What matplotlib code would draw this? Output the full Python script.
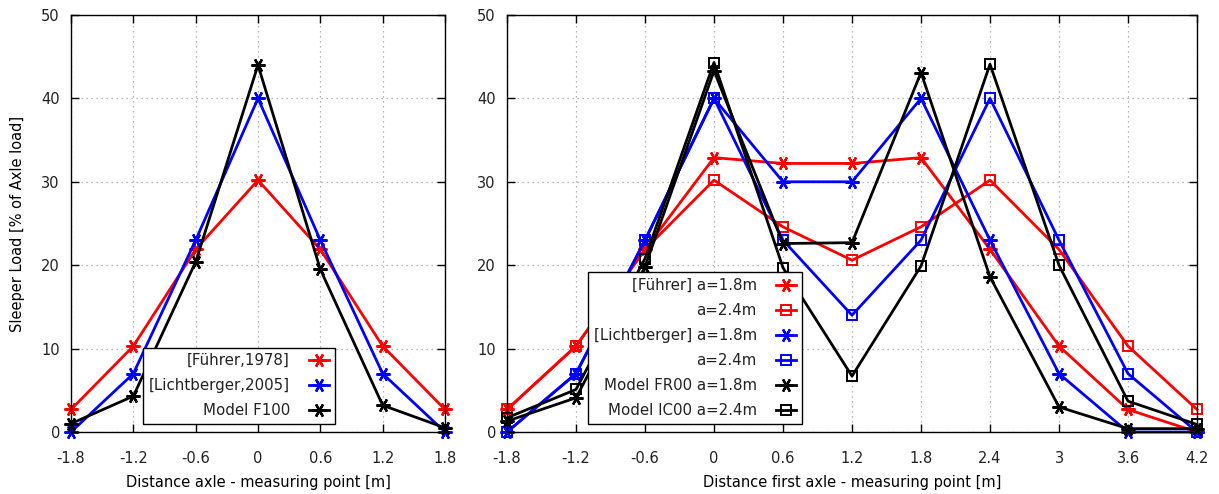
import numpy as np
import matplotlib.pyplot as plt

# distances [m]
x_single = [-1.8, -1.2, -0.6, 0.0, 0.6, 1.2, 1.8]
x_bogie = [-1.8, -1.2, -0.6, 0.0, 0.6, 1.2, 1.8, 2.4, 3.0, 3.6, 4.2]

# sleeper load [% of axle load], single axle
fuehrer = [2.7, 10.3, 21.9, 30.2, 21.9, 10.3, 2.7]
lichtberger = [0.0, 7.0, 23.0, 40.0, 23.0, 7.0, 0.0]
model_f100 = [1.0, 4.3, 20.4, 44.0, 19.5, 3.2, 0.5]

# two axles, spacing a
fuehrer_18 = [2.7, 10.3, 21.9, 32.9, 32.2, 32.2, 32.9, 21.9, 10.3, 2.7, 0.0]
fuehrer_24 = [2.7, 10.3, 21.9, 30.2, 24.6, 20.6, 24.6, 30.2, 21.9, 10.3, 2.7]
licht_18 = [0.0, 7.0, 23.0, 40.0, 30.0, 30.0, 40.0, 23.0, 7.0, 0.0, 0.0]
licht_24 = [0.0, 7.0, 23.0, 40.0, 23.0, 14.0, 23.0, 40.0, 23.0, 7.0, 0.0]
model_fr00 = [1.3, 4.1, 19.8, 43.3, 22.6, 22.7, 43.1, 18.6, 3.0, 0.4, 0.4]
model_ic00 = [1.7, 5.1, 20.8, 44.3, 19.7, 6.7, 19.9, 44.1, 20.0, 3.7, 0.9]

star = (6, 2, 90)
RED, BLUE, BLACK = '#ff0000', '#0000ff', '#000000'

plt.rcParams['font.family'] = 'DejaVu Sans'
plt.rcParams['font.size'] = 10.5
plt.rcParams['text.color'] = '#222222'
plt.rcParams['xtick.labelcolor'] = '#222222'
plt.rcParams['ytick.labelcolor'] = '#222222'

fig = plt.figure(figsize=(12.19, 4.94), dpi=100)
ax1 = fig.add_axes([71/1219, 62/494, 374/1219, 417/494])
ax2 = fig.add_axes([507/1219, 62/494, 690/1219, 417/494])


def style(ax, xt):
    ax.set_xlim(xt[0], xt[-1])
    ax.set_ylim(0, 50)
    ax.set_xticks(xt)
    ax.set_xticklabels(['0' if v == 0 else ('%g' % v) for v in xt])
    ax.set_yticks([0, 10, 20, 30, 40, 50])
    ax.grid(True, color='#a0a0a0', linestyle=(0, (1, 3)), linewidth=0.9)
    ax.tick_params(axis='both', direction='in', length=6, width=1,
                   top=True, right=True)
    ax.tick_params(axis='x', pad=14)
    ax.tick_params(axis='y', pad=8)
    for s in ax.spines.values():
        s.set_linewidth(1)


def curve(ax, x, y, c, m, label, ms=10, mew=1.7):
    ax.plot(x, y, color=c, lw=2, marker=m, ms=ms, mew=mew, mfc='none',
            clip_on=False, label=label)


style(ax1, x_single)
curve(ax1, x_single, fuehrer, RED, star, '[Führer,1978]')
curve(ax1, x_single, lichtberger, BLUE, star, '[Lichtberger,2005]')
curve(ax1, x_single, model_f100, BLACK, star, 'Model F100')
ax1.set_ylabel('Sleeper Load [% of Axle load]')
ax1.yaxis.set_label_coords(-0.123, 0.5)
ax1.set_xlabel('Distance axle - measuring point [m]')
ax1.xaxis.set_label_coords(0.5, -0.104)

style(ax2, x_bogie)
curve(ax2, x_bogie, fuehrer_18, RED, star, '[Führer] a=1.8m')
curve(ax2, x_bogie, fuehrer_24, RED, 's', 'a=2.4m', ms=7, mew=1.4)
curve(ax2, x_bogie, licht_18, BLUE, star, '[Lichtberger] a=1.8m')
curve(ax2, x_bogie, licht_24, BLUE, 's', 'a=2.4m', ms=7, mew=1.4)
curve(ax2, x_bogie, model_fr00, BLACK, star, 'Model FR00 a=1.8m')
curve(ax2, x_bogie, model_ic00, BLACK, 's', 'Model IC00 a=2.4m', ms=7, mew=1.4)
ax2.set_xlabel('Distance first axle - measuring point [m]')
ax2.xaxis.set_label_coords(0.5, -0.104)

for ax, x0 in ((ax1, 143), (ax2, 588)):
    leg = ax.legend(loc='lower left', bbox_to_anchor=(x0/1219, 70/494),
                    bbox_transform=fig.transFigure, borderaxespad=0,
                    markerfirst=False, handlelength=1.3, handletextpad=1.3,
                    labelspacing=0.67, borderpad=0.38, fancybox=False,
                    framealpha=1, edgecolor='black', fontsize=10.8)
    leg.get_frame().set_linewidth(1)
    leg.set_zorder(5)

fig.savefig('out.png', dpi=100)
